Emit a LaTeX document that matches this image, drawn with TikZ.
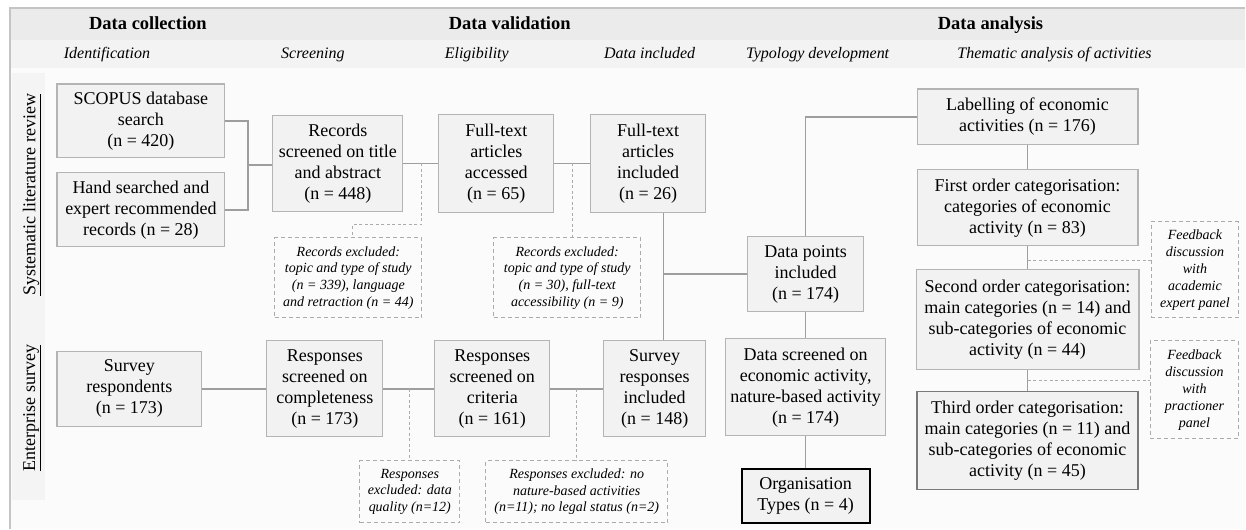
\documentclass[tikz,border=0pt]{standalone}
\usepackage{fontspec}
\setmainfont{Liberation Serif}
\usetikzlibrary{calc}

\definecolor{framegray}{HTML}{C4C4C4}
\definecolor{headA}{HTML}{EBEBEB}
\definecolor{headB}{HTML}{F3F3F3}
\definecolor{bodybg}{HTML}{FBFBFB}
\definecolor{stripbg}{HTML}{F4F4F4}
\definecolor{boxfill}{HTML}{F2F2F2}
\definecolor{boxline}{HTML}{B4B4B4}
\definecolor{linkgray}{HTML}{9E9E9E}
\definecolor{dashgray}{HTML}{ABABAB}
\definecolor{darkline}{HTML}{7A7A7A}

\begin{document}
\begin{tikzpicture}[x=1pt,y=-1pt,
  box/.style={draw=boxline, fill=boxfill, line width=1.1pt, inner sep=0pt,
    align=center, font=\fontsize{18}{21}\selectfont},
  exbox/.style={draw=dashgray, line width=0.9pt, dash pattern=on 4pt off 3pt,
    inner sep=0pt, align=center, font=\fontsize{14}{16.7}\selectfont\itshape},
  fbbox/.style={exbox, font=\fontsize{14}{17}\selectfont\itshape},
  link/.style={draw=linkgray, line width=1.4pt},
  dashlink/.style={draw=dashgray, line width=0.9pt, dash pattern=on 3pt off 2.5pt},
  headbold/.style={font=\fontsize{18.5}{22}\selectfont\bfseries, inner sep=0pt, anchor=base},
  headital/.style={font=\fontsize{16}{19}\selectfont\itshape, inner sep=0pt, anchor=base},
  sidelab/.style={font=\fontsize{18}{21}\selectfont, inner sep=0pt, rotate=90}]

% page, header bands and frame
\fill[white] (0,0) rectangle (1246,529);
\fill[bodybg] (10,8) rectangle (1246,529);
\fill[headA] (10,8) rectangle (1246,40);
\fill[headB] (10,40) rectangle (1246,68);
\fill[stripbg] (12,73) rectangle (45,500);
\draw[framegray, line width=1.2pt] (10,529) -- (10,8) -- (1246,8);
\useasboundingbox (0,0) rectangle (1246,529);

% header texts
\node[headbold] (hcol) at (148,30) {Data collection};
\node[headbold] (hval) at (510,30) {Data validation};
\node[headbold] (hana) at (991,30) {Data analysis};
\node[headital] (hid)  at (107,59) {Identification};
\node[headital] (hscr) at (313,59) {Screening};
\node[headital] (helg) at (477,59) {Eligibility};
\node[headital] (hinc) at (650,59) {Data included};
\node[headital] (htyp) at (818,59) {Typology development};
\node[headital] (hthm) at (1055,59) {Thematic analysis of activities};

% stream labels
\node[sidelab] (slr) at (32,195) {\underline{Systematic literature review}};
\node[sidelab] (ent) at (32,408) {\underline{Enterprise survey}};

% systematic literature review stream
\node[box, minimum width=168, minimum height=74] (scopus) at (141,121)
  {SCOPUS database\\search\\(n = 420)};
\node[box, minimum width=168, minimum height=74] (hand) at (141,210)
  {Hand searched and\\expert recommended\\records (n = 28)};
\node[box, minimum width=130, minimum height=96] (records) at (338,163.5)
  {Records\\screened on title\\and abstract\\(n = 448)};
\node[box, minimum width=115, minimum height=98] (fta) at (496.5,163.5)
  {Full-text\\articles\\accessed\\(n = 65)};
\node[box, minimum width=115, minimum height=98] (fti) at (648.5,163.5)
  {Full-text\\articles\\included\\(n = 26)};
\node[exbox, minimum width=147, minimum height=80] (exc1) at (348.5,278)
  {Records excluded:\\topic and type of study\\(n = 339), language\\and retraction (n = 44)};
\node[exbox, minimum width=147, minimum height=80] (exc2) at (567.5,278)
  {Records excluded:\\topic and type of study\\(n = 30), full-text\\accessibility (n = 9)};
\node[box, minimum width=116, minimum height=75] (dpi) at (806,274.5)
  {Data points\\included\\(n = 174)};

% thematic analysis column
\node[box, minimum width=221, minimum height=56] (label) at (1028,117)
  {Labelling of economic\\activities (n = 176)};
\node[box, minimum width=221, minimum height=76] (first) at (1028,208)
  {First order categorisation:\\categories of economic\\activity (n = 83)};
\node[box, minimum width=223, minimum height=100] (second) at (1028,320)
  {Second order categorisation:\\main categories (n = 14) and\\sub-categories of economic\\activity (n = 44)};
\node[box, draw=darkline, line width=1.3pt, minimum width=221, minimum height=98] (third) at (1028,441)
  {Third order categorisation:\\main categories (n = 11) and\\sub-categories of economic\\activity (n = 45)};
\node[fbbox, minimum width=87, minimum height=96] (fb1) at (1195.5,270)
  {Feedback\\discussion\\with\\academic\\expert panel};
\node[fbbox, minimum width=88, minimum height=98] (fb2) at (1195,390)
  {Feedback\\discussion\\with\\practioner\\panel};

% enterprise survey stream
\node[box, minimum width=145, minimum height=75] (survey) at (129.5,389)
  {Survey\\respondents\\(n = 173)};
\node[box, minimum width=116, minimum height=96] (comp) at (325,389)
  {Responses\\screened on\\completeness\\(n = 173)};
\node[box, minimum width=115, minimum height=96] (crit) at (492.5,389)
  {Responses\\screened on\\criteria\\(n = 161)};
\node[box, minimum width=102, minimum height=96] (sri) at (655,389)
  {Survey\\responses\\included\\(n = 148)};
\node[box, minimum width=160, minimum height=97] (dsc) at (806,387.5)
  {Data screened on\\economic activity,\\nature-based activity\\(n = 174)};
\node[box, draw=black, line width=2pt, minimum width=128, minimum height=54] (org) at (806,496)
  {Organisation\\Types (n = 4)};
\node[exbox, minimum width=100, minimum height=62] (exc3) at (410,492)
  {Responses\\excluded: data\\quality (n=12)};
\node[exbox, minimum width=182, minimum height=62] (exc4) at (577,492)
  {Responses excluded: no\\nature-based activities\\(n=11); no legal status (n=2)};

% junction points
\coordinate (jA) at (248,165);
\coordinate (jB) at (664,274);
\coordinate (x1) at (422,163.5);
\coordinate (x1b) at (353,225);
\coordinate (x2) at (573,163.5);
\coordinate (x3) at (410,389);
\coordinate (x4) at (577,389);
\coordinate (f1) at (1028,261);
\coordinate (f2) at (1028,381);

% connectors
\draw[link] (scopus.east) -| (jA) |- (hand.east);
\draw[link] (jA) -- (records.west |- jA);
\draw[link] (records.east) -- (fta.west);
\draw[link] (fta.east) -- (fti.west);
\draw[link] (jB |- fti.south) -- (jB |- sri.north);
\draw[link] (jB) -- (dpi.west |- jB);
\draw[link] (dpi.north) |- (label.west);
\draw[link] (label.south) -- (first.north);
\draw[link] (first.south) -- (second.north);
\draw[link] (second.south) -- (third.north);
\draw[link] (dpi.south) -- (dsc.north);
\draw[link] (dsc.south) -- (org.north);
\draw[link] (survey.east) -- (comp.west);
\draw[link] (comp.east) -- (crit.west);
\draw[link] (crit.east) -- (sri.west);

\draw[dashlink] (x1) |- (x1b) -- (x1b |- exc1.north);
\draw[dashlink] (x2) -- (x2 |- exc2.north);
\draw[dashlink] (x3) -- (x3 |- exc3.north);
\draw[dashlink] (x4) -- (x4 |- exc4.north);
\draw[dashlink] (f1) -- (f1 -| fb1.west);
\draw[dashlink] (f2) -- (f2 -| fb2.west);
\end{tikzpicture}
\end{document}
